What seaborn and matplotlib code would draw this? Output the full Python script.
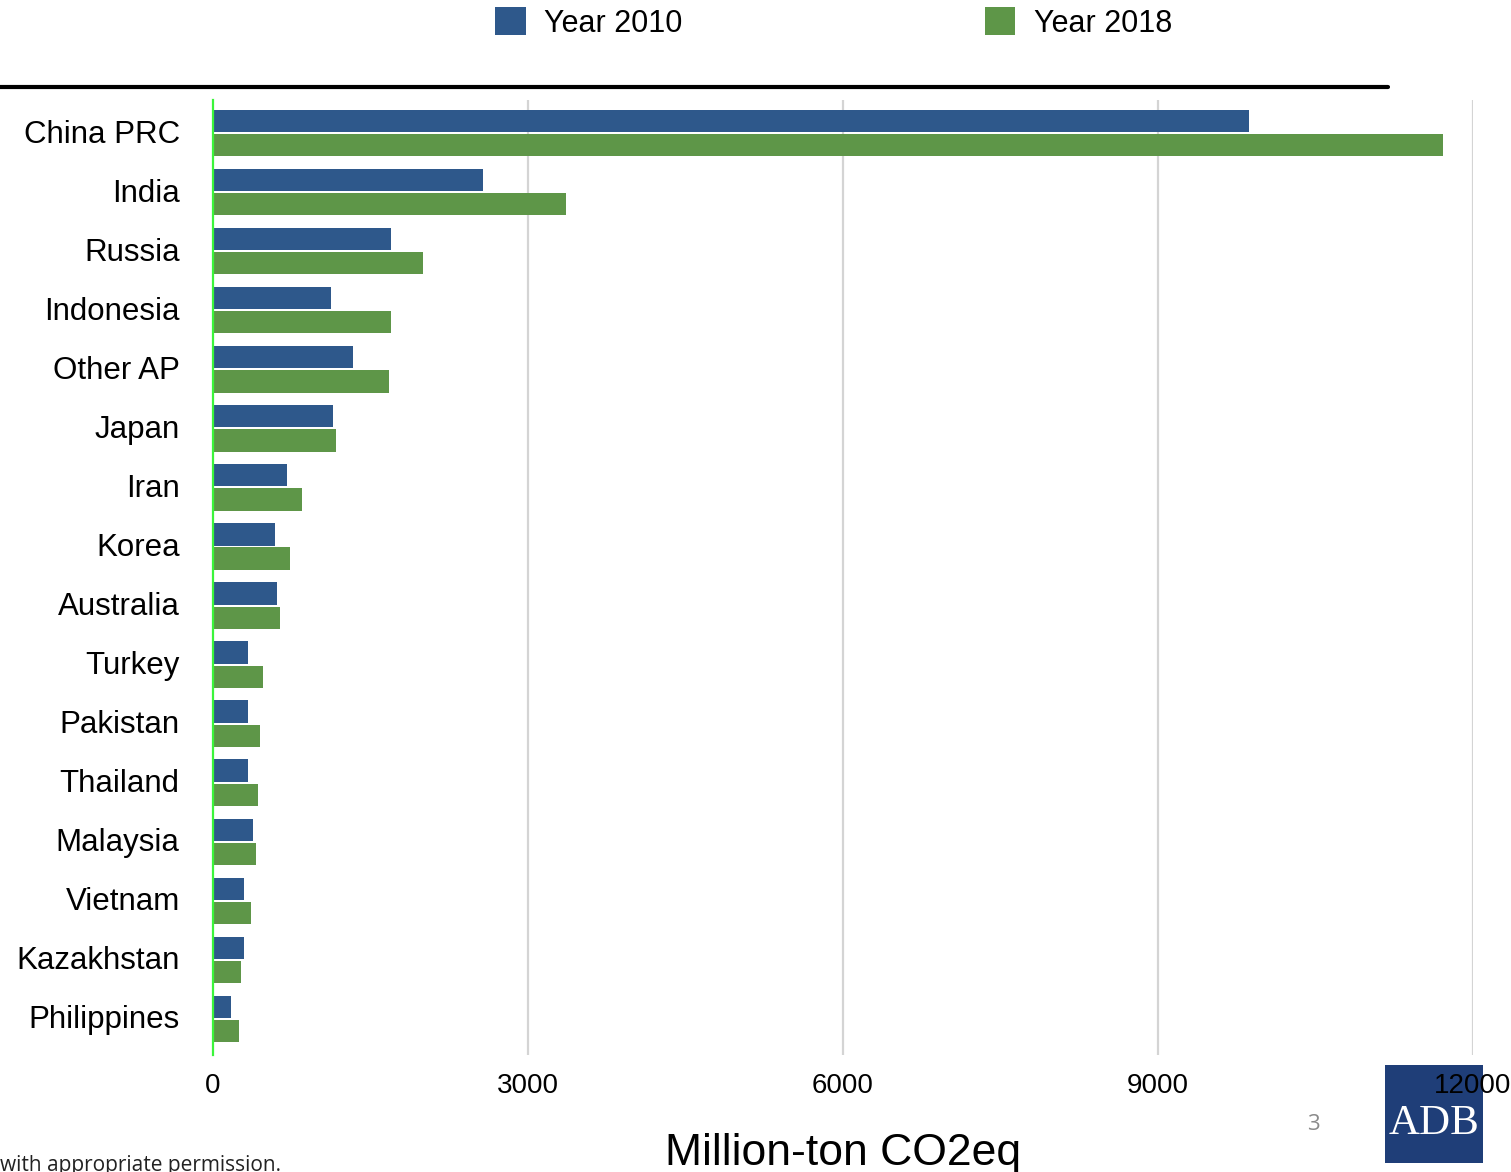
import matplotlib
matplotlib.use("Agg")
import matplotlib.pyplot as plt
import matplotlib.transforms as mtransforms
import seaborn as sns
import pandas as pd
from matplotlib.patches import Patch, Rectangle
from matplotlib.lines import Line2D

countries = ["China PRC", "India", "Russia", "Indonesia", "Other AP", "Japan", "Iran",
             "Korea", "Australia", "Turkey", "Pakistan", "Thailand", "Malaysia",
             "Vietnam", "Kazakhstan", "Philippines"]
year2010 = [9870, 2570, 1695, 1125, 1335, 1140, 705, 590, 610, 335, 335, 335, 380, 295, 295, 170]
year2018 = [11710, 3360, 2000, 1695, 1675, 1170, 850, 735, 640, 475, 450, 430, 410, 360, 265, 250]
series = ["Year 2010", "Year 2018"]
xticks = [0, 3000, 6000, 9000, 12000]
colors = ["#2E588B", "#5E9648"]

df = pd.DataFrame({
    "country": countries * 2,
    "value": year2010 + year2018,
    "year": [series[0]] * len(countries) + [series[1]] * len(countries),
})

sns.set_theme(style="white")
plt.rcParams["font.family"] = ["Liberation Sans", "DejaVu Sans"]
plt.rcParams["text.color"] = "black"
plt.rcParams["xtick.color"] = "black"
plt.rcParams["ytick.color"] = "black"

W, H = 1511, 1172
fig = plt.figure(figsize=(W / 100, H / 100), dpi=100)
ax = fig.add_axes([213 / W, 1 - 1055 / H, (1473 - 213) / W, (1055 - 100) / H])

sns.barplot(data=df, y="country", x="value", hue="year", orient="h",
            palette=colors, width=0.82, gap=0.08, saturation=1,
            linewidth=0, ax=ax, legend=False)

ax.set_xlim(0, 12000)
ax.set_ylim(15.61, -0.56)
ax.set_xticks(xticks)
ax.set_xticklabels([str(t) for t in xticks])
ax.tick_params(axis="x", labelsize=20, length=0, pad=13, labelcolor="black")
ax.tick_params(axis="y", labelsize=22.5, length=0, pad=24, labelcolor="black")
ax.set_xlabel("")
ax.set_ylabel("")
ax.set_axisbelow(True)
ax.xaxis.grid(True, color="#d4d4d4", linewidth=1.6)
ax.yaxis.grid(False)
for s in ["top", "right", "bottom"]:
    ax.spines[s].set_visible(False)
ax.spines["left"].set_color("#3BF53B")
ax.spines["left"].set_linewidth(1.6)
ax.get_xgridlines()[0].set_visible(False)

offset = mtransforms.ScaledTranslation(0, 2 / 100, fig.dpi_scale_trans)
for lab in ax.get_yticklabels():
    lab.set_transform(lab.get_transform() + offset)

# legend
handles = [Patch(facecolor=c, edgecolor="none", label=l) for c, l in zip(colors, series)]
fig.legend(handles=handles, loc="center left", bbox_to_anchor=(495 / W, 1 - 23 / H),
           ncol=2, frameon=False, fontsize=22, handlelength=1.0, handleheight=1.0,
           handletextpad=0.6, columnspacing=9.9, borderpad=0, borderaxespad=0)

# top black rule
fig.add_artist(Line2D([0, 1388 / W], [1 - 87 / H, 1 - 87 / H], color="black",
                      linewidth=3, transform=fig.transFigure))

# x-axis title
fig.text(843 / W, 1 - 1154 / H, "Million-ton CO2eq", ha="center", va="center",
         fontsize=32, color="black")

# footer text
fig.text(0, 1 - 1166 / H, "with appropriate permission.", ha="left", va="center",
         fontsize=15, family=["Open Sans", "DejaVu Sans"], color="#222222")
fig.text(1313 / W, 1 - 1125 / H, "3", ha="center", va="center", fontsize=16,
         family=["Open Sans", "DejaVu Sans"], color="#8a8a8a")

# ADB logo
logo = Rectangle((1385 / W, 1 - 1163 / H), 98 / W, 98 / H, transform=fig.transFigure,
                 facecolor="#1F3E78", edgecolor="none", zorder=-2)
fig.add_artist(logo)
fig.text(1434 / W, 1 - 1124 / H, "ADB", ha="center", va="center", fontsize=31,
         family=["Liberation Serif", "DejaVu Serif"], color="white", zorder=-1)

fig.savefig("out.png", dpi=100)
